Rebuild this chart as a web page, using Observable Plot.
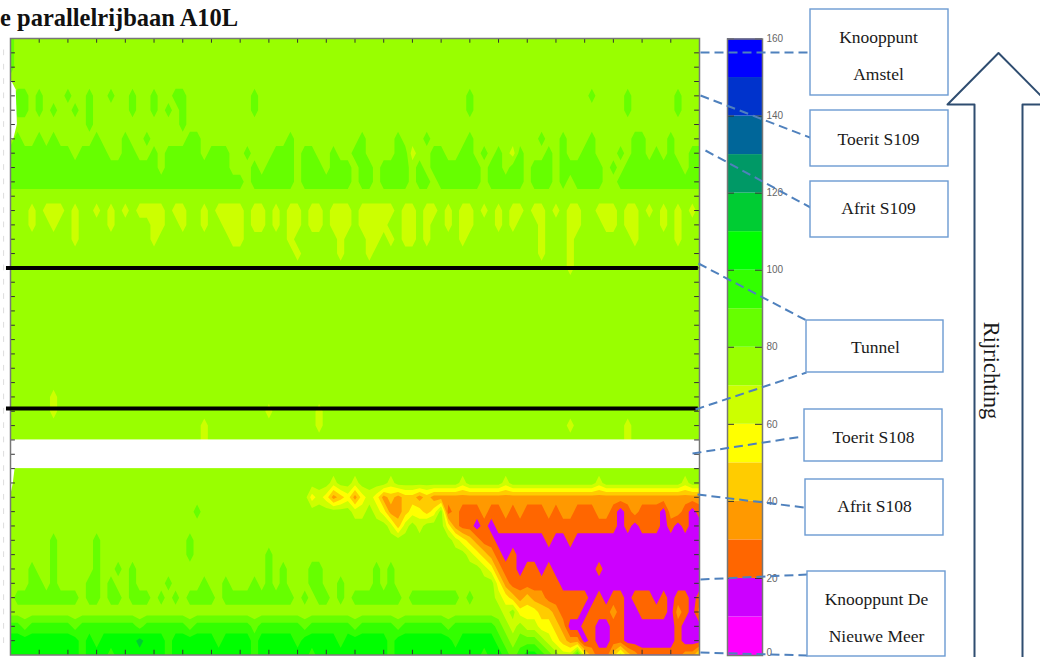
<!DOCTYPE html>
<html>
<head>
<meta charset="utf-8">
<script src="https://cdn.jsdelivr.net/npm/d3@7"></script>
<script src="https://cdn.jsdelivr.net/npm/@observablehq/plot@0.6"></script>
<style>
html,body{margin:0;padding:0;background:#fff;}
#stage{position:relative;width:1040px;height:657px;overflow:hidden;}
#stage svg{position:absolute;left:0;top:0;}
#title{position:absolute;left:0;top:4px;font:bold 24.5px "Liberation Serif",serif;color:#111;white-space:pre;}
</style>
</head>
<body>
<div id="stage"><div id="title">e parallelrijbaan A10L</div></div>
<script>
// Speed class per cell: digit/letter d = class of d*10..d*10+10 km/h, "." = no measurement.
// One string per measuring point (top = Amstel side), 4 cells per time tick.
const rowsAmstelToS109 = [
"8777 7777 7777 7777 7777 7777 7777 7777 7777 7777 7777 7777 7777 7777 7777 7777 7777 7777 7777 7777 7777 7777 7777 7777 7",
"8777 7777 7777 7777 7777 7777 7777 7777 7777 7777 7777 7777 7777 7777 7777 7777 7777 7777 7777 7777 7777 7777 7777 7777 7",
"8777 7777 7777 7777 7777 7777 7777 7777 7777 7777 7777 7777 7777 7777 7777 7777 7777 7777 7777 7777 7777 7777 7777 7777 7",
"7777 7777 7777 7777 7777 7777 7777 7777 7777 7777 7777 7777 7777 7777 7777 7777 7777 7777 7777 7777 7777 7777 7777 7777 7",
"7887 8777 8778 7787 7877 8778 8777 7777 7787 7777 7777 7777 7777 7777 7777 7777 8777 7777 7777 7777 7877 7787 7777 7877 7",
"7887 8787 7878 7777 7877 8787 8777 7777 7787 7777 7777 7777 7777 7777 7777 7777 8777 7777 7777 7777 7777 7787 7777 7877 7",
"7777 7777 7778 7777 7777 7777 8777 7777 7777 7777 7777 7777 7777 7777 7777 7777 7777 7777 7777 7777 7777 7777 7777 7777 7",
"7877 8787 7777 8777 8778 7777 7887 7777 7777 7778 7777 7777 7877 7787 7787 7777 8777 7777 7787 7877 7877 7778 8777 8777 7",
"8888 8888 8788 8877 8877 8788 8887 8887 7877 7888 7887 7877 8877 7788 6778 8778 8787 8768 7778 7877 8877 7878 8787 8778 8",
"8888 8888 8888 8888 8888 8788 8888 8887 7787 8888 7888 7888 7887 8888 7878 8888 8878 8788 7888 7888 8887 8788 8888 8878 8",
"8888 8888 8888 8888 8888 8888 8888 8888 8788 8888 7888 8888 7887 8888 7887 8888 8878 8888 7888 7878 8887 7888 8888 8888 8",
"7777 7777 7777 7777 7777 7777 7777 7777 7777 7777 7777 7777 7777 7777 7777 7777 7777 7777 7777 7777 7777 7777 7777 7777 7",
"7776 7666 7677 6767 6766 6676 6776 7666 6766 7676 6766 7666 7666 6676 6766 7676 6767 6766 7667 6766 7766 6766 7676 7676 7",
"7776 7767 7677 7767 7777 6677 6776 7766 6766 7676 6766 7666 7666 6776 6767 7676 6777 6767 7767 7766 7776 6766 7776 7677 7",
"7777 7777 7677 7777 7777 6777 7777 7776 6777 7776 7777 7767 7766 7676 6767 7776 7777 7777 7767 7767 7777 7776 7777 7677 7",
"7777 7777 7777 7777 7777 7777 7777 7777 7777 7777 6777 7767 7767 7777 7777 7777 7777 7777 7767 7767 7777 7777 7777 7777 7"
];
const rowsTunnel = [
"7777 7777 7777 7777 7777 7777 7777 7777 7777 7777 7777 7777 7777 7777 7777 7777 7777 7777 7777 7767 7777 7777 7777 7777 7",
"7777 7777 7777 7777 7777 7777 7777 7777 7777 7777 7777 7777 7777 7777 7777 7777 7777 7777 7777 7777 7777 7777 7777 7777 7",
"7777 7777 7777 7777 7777 7777 7777 7777 7777 7777 7777 7777 7777 7777 7777 7777 7777 7777 7777 7777 7777 7777 7777 7777 7",
"7777 7777 7777 7777 7777 7777 7777 7777 7777 7777 7777 7777 7777 7777 7777 7777 7777 7777 7777 7777 7777 7777 7777 7777 7",
"7777 7777 7777 7777 7777 7777 7777 7777 7777 7777 7777 7777 7777 7777 7777 7777 7777 7777 7777 7777 7777 7777 7777 7777 7",
"7777 7777 7777 7777 7777 7777 7777 7777 7777 7777 7777 7777 7777 7777 7777 7777 7777 7777 7777 7777 7777 7777 7777 7777 7",
"7777 7777 7777 7777 7777 7777 7777 7777 7777 7777 7777 7777 7777 7777 7777 7777 7777 7777 7777 7777 7777 7777 7777 7777 7",
"7777 7777 7777 7777 7777 7777 7777 7777 7777 7777 7777 7777 7777 7777 7777 7777 7777 7777 7777 7777 7777 7777 7777 7777 7",
"7777 7777 7777 7777 7777 7777 7777 7777 7777 7777 7777 7777 7777 7777 7777 7777 7777 7777 7777 7777 7777 7777 7777 7777 7",
"7777 7767 7777 7777 7777 7777 7777 7777 7777 7777 7777 7777 7777 7777 7777 7777 7777 7777 7777 7777 7777 7777 7777 7777 7",
"7777 7767 7777 7777 7777 7777 7777 7777 7777 6777 7776 7777 7777 7777 7777 7777 7777 7777 7777 7777 7777 7777 7777 7777 7",
"7777 7777 7777 7777 7777 7777 7776 7777 7777 7777 7776 7777 7777 7777 7777 7777 7777 7777 7777 7767 7777 7767 7777 7777 7",
"7777 7777 7777 7777 7777 7777 7776 7777 7777 7777 7777 7777 7777 7777 7777 7777 7777 7777 7777 7777 7777 7767 7777 7777 7",
".... .... .... .... .... .... .... .... .... .... .... .... .... .... .... .... .... .... .... .... .... .... .... .... .",
"7777 7777 7777 7777 7777 7777 7777 7777 7777 7777 7777 7777 7777 7777 7777 7777 7777 7777 7777 7777 7777 7777 7777 7777 7"
];
const rowsS108Jam = [
"7777 7777 7777 7777 7777 7777 7777 7777 7777 7777 7777 7677 6777 7677 7777 7776 7777 7677 7777 7777 7767 7777 7777 7767 7",
"7777 7777 7777 7777 7777 7777 7777 7777 7777 7777 7756 5345 3565 3434 4343 3333 3333 3333 3333 3333 3333 3333 3333 3333 3",
"7777 7777 7777 7777 7777 7777 7787 7777 7777 7777 7777 7777 6676 5334 5545 7232 2232 2323 2223 2332 2233 2123 2221 3321 2",
"7777 7777 7777 7777 7777 7777 7777 7777 7777 7777 7777 7777 7777 7646 7677 7532 2121 2222 2222 2222 2222 2121 2221 2121 1",
"7777 7787 7777 8777 7777 7777 7877 7777 7777 7777 7777 7777 7777 7777 7777 7765 4322 1111 1112 1121 1111 1111 1111 1111 1",
"7777 7787 7777 8777 7777 7777 7877 7777 7777 8777 7777 7777 7777 7777 7777 7777 6543 2121 1111 1111 1111 1111 1111 1111 1",
"7778 7787 7777 8778 7877 7777 7777 7777 7777 8787 7788 7777 7778 7877 7777 7777 7765 3221 2212 1111 1121 1111 1111 1111 1",
"7778 8787 7778 8787 7877 7787 7778 7787 7787 8787 7788 7787 7778 7877 7777 7777 7777 5322 2222 2111 1111 1111 1111 1111 1"
];
const rowsNieuweMeer = [
"7888 8888 8878 8788 7888 7878 7888 8788 8888 8888 7878 8787 8888 8887 8888 8887 8777 6543 4332 2222 2121 2212 2212 1221 2",
"7777 7777 7777 7777 7777 7777 7777 7777 7777 7777 7777 7777 7777 7777 7777 7777 7777 7675 5544 3222 1222 3211 2222 1321 3",
"9989 9999 9899 9999 9989 9999 9899 9999 9989 9999 9899 9999 8999 9989 9999 9899 9999 8767 6655 4311 2211 2211 1111 1211 1",
"aaaa aaaa aa9a 9aaa aaba aa9a aaaa a9aa aa9a aaaa 9aaa aa9a aaaa a9aa aaaa aa9a aaaa 9878 8876 5433 1211 2211 1111 1211 1",
"aaaa aaaa aa9a aa9a aaaa aa9a aaaa aaaa aa9a aaaa aa9a aaaa aaaa a9aa aaaa aaaa aa9a a989 aa98 7669 5322 4643 2222 2233 5"
];

const bandColors = ["#ff00ff","#cc00ff","#ff6600","#ff9900","#ffcc00","#ffff00","#ccff00","#99ff00","#66ff00","#33ff00","#00ff00","#00cc33","#009966","#006699","#0033cc","#0000ff"];
const bandLows = [0,10,20,30,40,50,60,70,80,90,100,110,120,130,140,150];
const speedTicks = [20,40,60,80,100,120,140,160];
const speedZero = [0];
const timeTicks = [1,2,3,4,5,6,7,8,9,10,11,12,13,14,15,16,17,18,19,20,21,22,23];
const placeTicks = [1,2,3,4,5,6,7,8,9,10,11,12,13,14,15,16,17,18,19,20,21,22,23,24,25,26,27,28,29,30,31,32,33,34,35,36,37,38,39,40,41,42];
const tunnelEnds = [16,25.8];
const noDataBand = [{y1:28,y2:30}];
const noDataEdgeTop = [{y:2.8,x:0},{y:3.6,x:0.2},{y:6,x:0.24},{y:7,x:0.12},{y:7.2,x:0}];
const noDataEdgeLow = [{y:30,x:0.16},{y:31,x:0.1},{y:32,x:0}];

const rows = [...rowsAmstelToS109, ...rowsTunnel, ...rowsS108Jam, ...rowsNieuweMeer];
const nCols = 97;
const grid = rows.flatMap(r => {
  const c = r.replace(/\s/g,"").padEnd(nCols,"7").slice(0,nCols);
  return Array.from(c, ch => ch === "." ? NaN : parseInt(ch,16)*10+5);
});
const colorScale = {type:"threshold", domain:bandLows.slice(1), range:bandColors};

const stage = document.getElementById("stage");

// heat map
stage.append(Plot.plot({
  width:1040, height:657,
  marginLeft:10, marginRight:341, marginTop:38, marginBottom:2.5,
  style:{background:"transparent"},
  x:{domain:[0,24], axis:null},
  y:{domain:[43,0], axis:null},
  color:colorScale,
  marks:[
    Plot.contour(grid,{x1:-0.125,x2:24.125,y1:-0.5,y2:43.5,width:nCols,height:rows.length,fill:Plot.identity,thresholds:bandLows,clip:true}),
    Plot.rect(noDataBand,{x1:0,x2:24,y1:"y1",y2:"y2",fill:"#fff"}),
    Plot.areaX(noDataEdgeTop,{x1:0,x2:"x",y:"y",fill:"#fff"}),
    Plot.areaX(noDataEdgeLow,{x1:0,x2:"x",y:"y",fill:"#fff"}),
    Plot.ruleX(timeTicks,{y1:0,y2:0.33,stroke:"#333"}),
    Plot.ruleX(timeTicks,{y1:42.67,y2:43,stroke:"#333"}),
    Plot.ruleY(placeTicks,{x1:0,x2:0.17,stroke:"#333"}),
    Plot.ruleY(placeTicks,{x1:23.83,x2:24,stroke:"#333"}),
    Plot.frame({stroke:"#777",strokeWidth:1.5}),
    Plot.ruleX(placeTicks,{x:-0.24,y1:d=>d-0.2,y2:d=>d+0.2,stroke:"#ddd"}),
    Plot.ruleY(tunnelEnds,{x1:-0.14,x2:23.96,stroke:"#000",strokeWidth:4})
  ]
}));

// colour bar
stage.append(Plot.plot({
  width:1040, height:657,
  marginLeft:727, marginRight:278, marginTop:38.5, marginBottom:2,
  style:{background:"transparent",fontFamily:"'Liberation Sans',Arial,sans-serif",fontSize:"10px"},
  x:{domain:[0,1],axis:null},
  y:{domain:[0,160],axis:null},
  color:colorScale,
  marks:[
    Plot.rect(bandLows,{x1:0,x2:1,y1:d=>d,y2:d=>d+10,fill:d=>d}),
    Plot.ruleY(speedTicks,{x1:0,x2:0.2,stroke:"#333"}),
    Plot.ruleY(speedTicks,{x1:0.8,x2:1,stroke:"#333"}),
    Plot.frame({stroke:"#777",strokeWidth:1.5}),
    Plot.axisY(speedTicks,{anchor:"right",tickSize:0,tickPadding:4,label:null,color:"#666",fontSize:10}),
    Plot.axisY(speedZero,{anchor:"right",tickSize:0,tickPadding:4,label:null,color:"#666",fontSize:10,textAnchor:"start",dy:-3})
  ]
}));

// annotations
const boxLeft   = [810,810,810,806,804,805,807];
const boxRight  = [948,948,948,943,942,943,945];
const boxTop    = [9,110,181,320,409,479,571];
const boxBottom = [95,166,237,372,461,535,656];
const boxes = boxLeft.map((x1,i)=>({x1,x2:boxRight[i],y1:boxTop[i],y2:boxBottom[i]}));
const labelText = ["Knooppunt","Amstel","Toerit S109","Afrit S109","Tunnel","Toerit S108","Afrit S108","Knooppunt De","Nieuwe Meer"];
const labelX = [878,878,878,878,875,873,874,876,876];
const labelY = [37,74,139,208,347,437,506,599,636];
const labels = labelText.map((t,i)=>({t,x:labelX[i],y:labelY[i]}));
const leaderFrom = [[700,52],[700,95],[705,150],[698,263],[695,409],[692,453],[697,494],[700,579],[700,652]];
const leaderTo   = [[808,52],[812,138],[810,207],[806,320],[806,372],[802,436],[804,507],[807,574],[807,655]];
const leaders = leaderFrom.map((a,i)=>({x1:a[0],y1:a[1],x2:leaderTo[i][0],y2:leaderTo[i][1]}));
const arrowX = [974,974,947,998,1049,1022,1022];
const arrowY = [660,104,104,52.5,104,104,660];
const arrow = arrowX.map((x,i)=>({x,y:arrowY[i]}));

stage.append(Plot.plot({
  width:1040, height:657, margin:0,
  style:{background:"transparent",fontFamily:"'Liberation Serif',serif"},
  x:{domain:[0,1040],axis:null},
  y:{domain:[657,0],axis:null},
  marks:[
    Plot.link(leaders,{x1:"x1",y1:"y1",x2:"x2",y2:"y2",stroke:"#4f81bd",strokeWidth:2,strokeDasharray:"9 5"}),
    Plot.rect(boxes,{x1:"x1",x2:"x2",y1:"y1",y2:"y2",fill:"#fff",stroke:"#6c9bd2",strokeWidth:1.4}),
    Plot.line(arrow,{x:"x",y:"y",stroke:"#2f4d70",strokeWidth:2,fill:"none",curve:"linear"}),
    Plot.text(labels,{x:"x",y:"y",text:"t",fontSize:17.5,fill:"#1a1a1a",textAnchor:"middle"}),
    Plot.text(["Rijrichting"],{x:[991],y:[370],text:d=>d,rotate:90,fontSize:22.5,fill:"#1a1a1a"})
  ]
}));
</script>
</body>
</html>
